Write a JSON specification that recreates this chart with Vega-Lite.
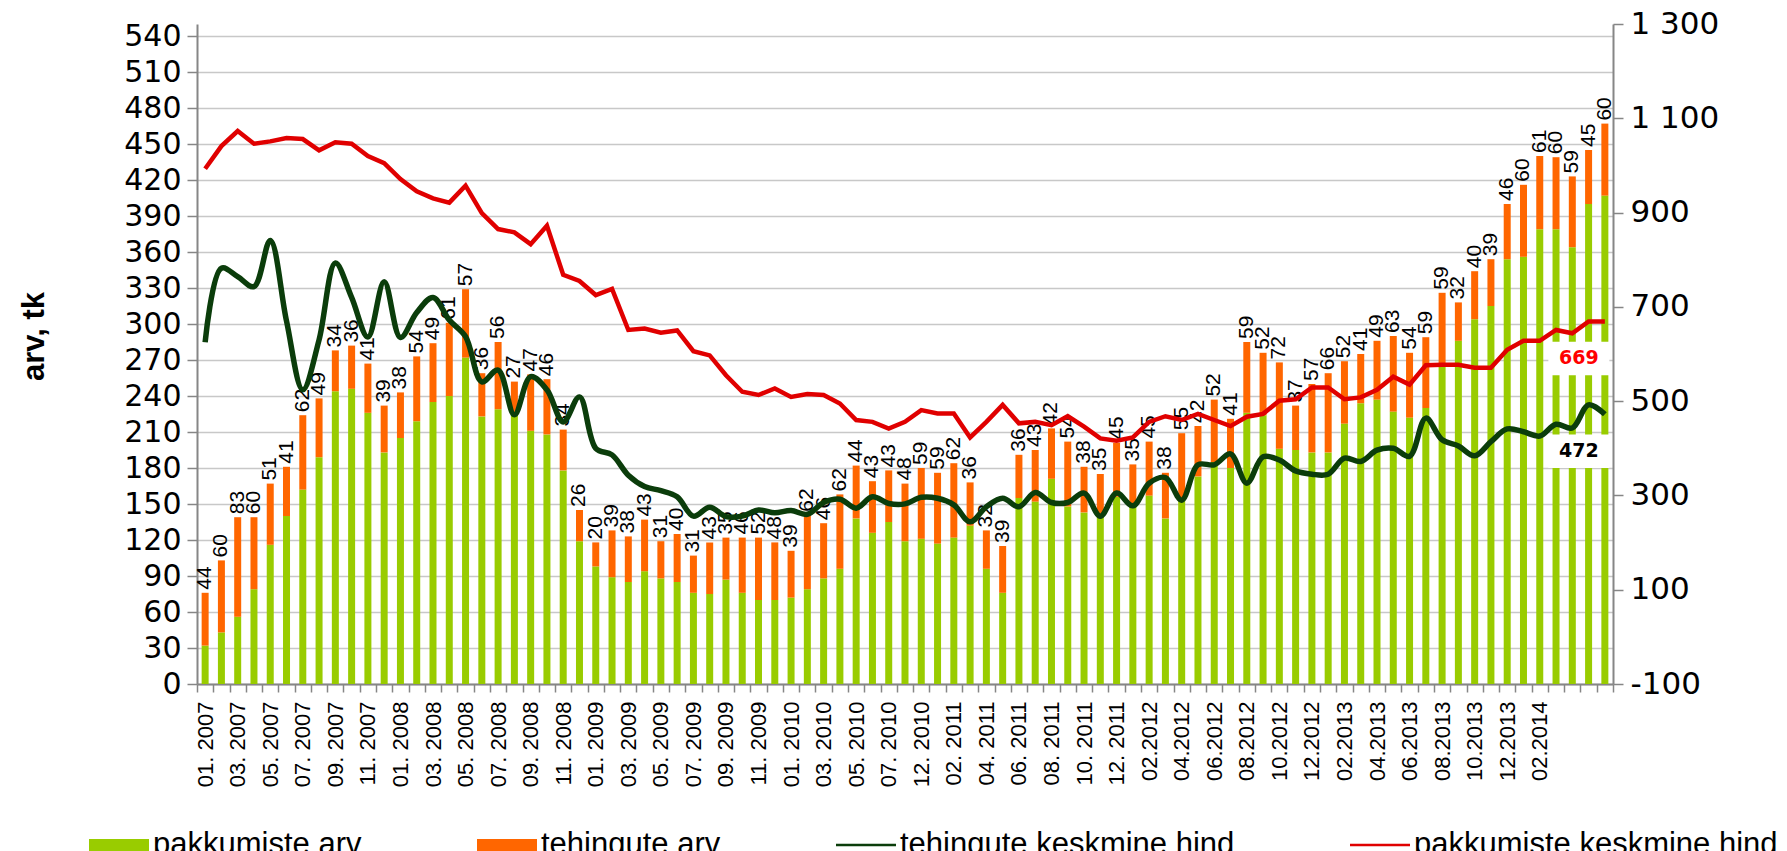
{
  "$schema": "https://vega.github.io/schema/vega-lite/v6.json",
  "width": 1416,
  "height": 660,
  "autosize": {"type": "none"},
  "padding": {"left": 197, "top": 24, "right": 174, "bottom": 167},
  "background": "white",
  "config": {"view": {"stroke": null}, "axisY": {"labelOverlap": false}},
  "data": {"values": [
    {"kuu": "01. 2007", "pakkumiste arv": 32, "tehingute arv": 44, "tehingute keskmine hind": 625, "pakkumiste keskmine hind": 993},
    {"kuu": "02. 2007", "pakkumiste arv": 43, "tehingute arv": 60, "tehingute keskmine hind": 782, "pakkumiste keskmine hind": 1041},
    {"kuu": "03. 2007", "pakkumiste arv": 56, "tehingute arv": 83, "tehingute keskmine hind": 764, "pakkumiste keskmine hind": 1073},
    {"kuu": "04. 2007", "pakkumiste arv": 79, "tehingute arv": 60, "tehingute keskmine hind": 743, "pakkumiste keskmine hind": 1046},
    {"kuu": "05. 2007", "pakkumiste arv": 116, "tehingute arv": 51, "tehingute keskmine hind": 841, "pakkumiste keskmine hind": 1051},
    {"kuu": "06. 2007", "pakkumiste arv": 140, "tehingute arv": 41, "tehingute keskmine hind": 670, "pakkumiste keskmine hind": 1058},
    {"kuu": "07. 2007", "pakkumiste arv": 162, "tehingute arv": 62, "tehingute keskmine hind": 524, "pakkumiste keskmine hind": 1056},
    {"kuu": "08. 2007", "pakkumiste arv": 189, "tehingute arv": 49, "tehingute keskmine hind": 630, "pakkumiste keskmine hind": 1032},
    {"kuu": "09. 2007", "pakkumiste arv": 244, "tehingute arv": 34, "tehingute keskmine hind": 793, "pakkumiste keskmine hind": 1049},
    {"kuu": "10. 2007", "pakkumiste arv": 246, "tehingute arv": 36, "tehingute keskmine hind": 720, "pakkumiste keskmine hind": 1046},
    {"kuu": "11. 2007", "pakkumiste arv": 226, "tehingute arv": 41, "tehingute keskmine hind": 636, "pakkumiste keskmine hind": 1020},
    {"kuu": "12. 2007", "pakkumiste arv": 193, "tehingute arv": 39, "tehingute keskmine hind": 753, "pakkumiste keskmine hind": 1005},
    {"kuu": "01. 2008", "pakkumiste arv": 205, "tehingute arv": 38, "tehingute keskmine hind": 635, "pakkumiste keskmine hind": 971},
    {"kuu": "02. 2008", "pakkumiste arv": 219, "tehingute arv": 54, "tehingute keskmine hind": 688, "pakkumiste keskmine hind": 945},
    {"kuu": "03. 2008", "pakkumiste arv": 235, "tehingute arv": 49, "tehingute keskmine hind": 720, "pakkumiste keskmine hind": 930},
    {"kuu": "04. 2008", "pakkumiste arv": 240, "tehingute arv": 61, "tehingute keskmine hind": 672, "pakkumiste keskmine hind": 921},
    {"kuu": "05. 2008", "pakkumiste arv": 272, "tehingute arv": 57, "tehingute keskmine hind": 637, "pakkumiste keskmine hind": 957},
    {"kuu": "06. 2008", "pakkumiste arv": 223, "tehingute arv": 36, "tehingute keskmine hind": 541, "pakkumiste keskmine hind": 899},
    {"kuu": "07. 2008", "pakkumiste arv": 229, "tehingute arv": 56, "tehingute keskmine hind": 566, "pakkumiste keskmine hind": 865},
    {"kuu": "08. 2008", "pakkumiste arv": 225, "tehingute arv": 27, "tehingute keskmine hind": 471, "pakkumiste keskmine hind": 858},
    {"kuu": "09. 2008", "pakkumiste arv": 211, "tehingute arv": 47, "tehingute keskmine hind": 552, "pakkumiste keskmine hind": 833},
    {"kuu": "10. 2008", "pakkumiste arv": 208, "tehingute arv": 46, "tehingute keskmine hind": 524, "pakkumiste keskmine hind": 872},
    {"kuu": "11. 2008", "pakkumiste arv": 178, "tehingute arv": 34, "tehingute keskmine hind": 456, "pakkumiste keskmine hind": 768},
    {"kuu": "12. 2008", "pakkumiste arv": 119, "tehingute arv": 26, "tehingute keskmine hind": 509, "pakkumiste keskmine hind": 755},
    {"kuu": "01. 2009", "pakkumiste arv": 98, "tehingute arv": 20, "tehingute keskmine hind": 400, "pakkumiste keskmine hind": 725},
    {"kuu": "02. 2009", "pakkumiste arv": 89, "tehingute arv": 39, "tehingute keskmine hind": 386, "pakkumiste keskmine hind": 738},
    {"kuu": "03. 2009", "pakkumiste arv": 85, "tehingute arv": 38, "tehingute keskmine hind": 343, "pakkumiste keskmine hind": 651},
    {"kuu": "04. 2009", "pakkumiste arv": 94, "tehingute arv": 43, "tehingute keskmine hind": 319, "pakkumiste keskmine hind": 654},
    {"kuu": "05. 2009", "pakkumiste arv": 88, "tehingute arv": 31, "tehingute keskmine hind": 310, "pakkumiste keskmine hind": 645},
    {"kuu": "06. 2009", "pakkumiste arv": 85, "tehingute arv": 40, "tehingute keskmine hind": 297, "pakkumiste keskmine hind": 650},
    {"kuu": "07. 2009", "pakkumiste arv": 76, "tehingute arv": 31, "tehingute keskmine hind": 256, "pakkumiste keskmine hind": 606},
    {"kuu": "08. 2009", "pakkumiste arv": 75, "tehingute arv": 43, "tehingute keskmine hind": 275, "pakkumiste keskmine hind": 597},
    {"kuu": "09. 2009", "pakkumiste arv": 87, "tehingute arv": 35, "tehingute keskmine hind": 255, "pakkumiste keskmine hind": 555},
    {"kuu": "10. 2009", "pakkumiste arv": 76, "tehingute arv": 46, "tehingute keskmine hind": 256, "pakkumiste keskmine hind": 520},
    {"kuu": "11. 2009", "pakkumiste arv": 70, "tehingute arv": 52, "tehingute keskmine hind": 269, "pakkumiste keskmine hind": 513},
    {"kuu": "12. 2009", "pakkumiste arv": 70, "tehingute arv": 48, "tehingute keskmine hind": 263, "pakkumiste keskmine hind": 527},
    {"kuu": "01. 2010", "pakkumiste arv": 72, "tehingute arv": 39, "tehingute keskmine hind": 268, "pakkumiste keskmine hind": 509},
    {"kuu": "02. 2010", "pakkumiste arv": 79, "tehingute arv": 62, "tehingute keskmine hind": 260, "pakkumiste keskmine hind": 515},
    {"kuu": "03. 2010", "pakkumiste arv": 88, "tehingute arv": 46, "tehingute keskmine hind": 285, "pakkumiste keskmine hind": 513},
    {"kuu": "04. 2010", "pakkumiste arv": 96, "tehingute arv": 62, "tehingute keskmine hind": 292, "pakkumiste keskmine hind": 495},
    {"kuu": "05. 2010", "pakkumiste arv": 138, "tehingute arv": 44, "tehingute keskmine hind": 273, "pakkumiste keskmine hind": 460},
    {"kuu": "06. 2010", "pakkumiste arv": 126, "tehingute arv": 43, "tehingute keskmine hind": 297, "pakkumiste keskmine hind": 456},
    {"kuu": "07. 2010", "pakkumiste arv": 135, "tehingute arv": 43, "tehingute keskmine hind": 283, "pakkumiste keskmine hind": 442},
    {"kuu": "08. 2010", "pakkumiste arv": 119, "tehingute arv": 48, "tehingute keskmine hind": 282, "pakkumiste keskmine hind": 456},
    {"kuu": "12. 2010", "pakkumiste arv": 121, "tehingute arv": 59, "tehingute keskmine hind": 296, "pakkumiste keskmine hind": 481},
    {"kuu": "01. 2011", "pakkumiste arv": 117, "tehingute arv": 59, "tehingute keskmine hind": 294, "pakkumiste keskmine hind": 474},
    {"kuu": "02. 2011", "pakkumiste arv": 122, "tehingute arv": 62, "tehingute keskmine hind": 280, "pakkumiste keskmine hind": 474},
    {"kuu": "03. 2011", "pakkumiste arv": 132, "tehingute arv": 36, "tehingute keskmine hind": 244, "pakkumiste keskmine hind": 423},
    {"kuu": "04. 2011", "pakkumiste arv": 96, "tehingute arv": 32, "tehingute keskmine hind": 276, "pakkumiste keskmine hind": 456},
    {"kuu": "05. 2011", "pakkumiste arv": 76, "tehingute arv": 39, "tehingute keskmine hind": 294, "pakkumiste keskmine hind": 492},
    {"kuu": "06. 2011", "pakkumiste arv": 155, "tehingute arv": 36, "tehingute keskmine hind": 276, "pakkumiste keskmine hind": 453},
    {"kuu": "07. 2011", "pakkumiste arv": 152, "tehingute arv": 43, "tehingute keskmine hind": 306, "pakkumiste keskmine hind": 456},
    {"kuu": "08. 2011", "pakkumiste arv": 171, "tehingute arv": 42, "tehingute keskmine hind": 285, "pakkumiste keskmine hind": 449},
    {"kuu": "09. 2011", "pakkumiste arv": 148, "tehingute arv": 54, "tehingute keskmine hind": 285, "pakkumiste keskmine hind": 468},
    {"kuu": "10. 2011", "pakkumiste arv": 143, "tehingute arv": 38, "tehingute keskmine hind": 305, "pakkumiste keskmine hind": 446},
    {"kuu": "11. 2011", "pakkumiste arv": 140, "tehingute arv": 35, "tehingute keskmine hind": 256, "pakkumiste keskmine hind": 421},
    {"kuu": "12. 2011", "pakkumiste arv": 156, "tehingute arv": 45, "tehingute keskmine hind": 305, "pakkumiste keskmine hind": 416},
    {"kuu": "01.2012", "pakkumiste arv": 148, "tehingute arv": 35, "tehingute keskmine hind": 278, "pakkumiste keskmine hind": 423},
    {"kuu": "02.2012", "pakkumiste arv": 157, "tehingute arv": 45, "tehingute keskmine hind": 326, "pakkumiste keskmine hind": 456},
    {"kuu": "03.2012", "pakkumiste arv": 138, "tehingute arv": 38, "tehingute keskmine hind": 338, "pakkumiste keskmine hind": 468},
    {"kuu": "04.2012", "pakkumiste arv": 154, "tehingute arv": 55, "tehingute keskmine hind": 290, "pakkumiste keskmine hind": 460},
    {"kuu": "05.2012", "pakkumiste arv": 173, "tehingute arv": 42, "tehingute keskmine hind": 365, "pakkumiste keskmine hind": 473},
    {"kuu": "06.2012", "pakkumiste arv": 185, "tehingute arv": 52, "tehingute keskmine hind": 365, "pakkumiste keskmine hind": 460},
    {"kuu": "07.2012", "pakkumiste arv": 180, "tehingute arv": 41, "tehingute keskmine hind": 388, "pakkumiste keskmine hind": 447},
    {"kuu": "08.2012", "pakkumiste arv": 226, "tehingute arv": 59, "tehingute keskmine hind": 326, "pakkumiste keskmine hind": 467},
    {"kuu": "09.2012", "pakkumiste arv": 224, "tehingute arv": 52, "tehingute keskmine hind": 382, "pakkumiste keskmine hind": 473},
    {"kuu": "10.2012", "pakkumiste arv": 196, "tehingute arv": 72, "tehingute keskmine hind": 375, "pakkumiste keskmine hind": 501},
    {"kuu": "11.2012", "pakkumiste arv": 195, "tehingute arv": 37, "tehingute keskmine hind": 352, "pakkumiste keskmine hind": 504},
    {"kuu": "12.2012", "pakkumiste arv": 193, "tehingute arv": 57, "tehingute keskmine hind": 345, "pakkumiste keskmine hind": 529},
    {"kuu": "01.2013", "pakkumiste arv": 193, "tehingute arv": 66, "tehingute keskmine hind": 345, "pakkumiste keskmine hind": 529},
    {"kuu": "02.2013", "pakkumiste arv": 217, "tehingute arv": 52, "tehingute keskmine hind": 379, "pakkumiste keskmine hind": 504},
    {"kuu": "03.2013", "pakkumiste arv": 234, "tehingute arv": 41, "tehingute keskmine hind": 372, "pakkumiste keskmine hind": 508},
    {"kuu": "04.2013", "pakkumiste arv": 237, "tehingute arv": 49, "tehingute keskmine hind": 396, "pakkumiste keskmine hind": 524},
    {"kuu": "05.2013", "pakkumiste arv": 227, "tehingute arv": 63, "tehingute keskmine hind": 400, "pakkumiste keskmine hind": 552},
    {"kuu": "06.2013", "pakkumiste arv": 222, "tehingute arv": 54, "tehingute keskmine hind": 383, "pakkumiste keskmine hind": 535},
    {"kuu": "07.2013", "pakkumiste arv": 230, "tehingute arv": 59, "tehingute keskmine hind": 464, "pakkumiste keskmine hind": 576},
    {"kuu": "08.2013", "pakkumiste arv": 267, "tehingute arv": 59, "tehingute keskmine hind": 418, "pakkumiste keskmine hind": 577},
    {"kuu": "09.2013", "pakkumiste arv": 286, "tehingute arv": 32, "tehingute keskmine hind": 405, "pakkumiste keskmine hind": 577},
    {"kuu": "10.2013", "pakkumiste arv": 304, "tehingute arv": 40, "tehingute keskmine hind": 384, "pakkumiste keskmine hind": 571},
    {"kuu": "11.2013", "pakkumiste arv": 315, "tehingute arv": 39, "tehingute keskmine hind": 414, "pakkumiste keskmine hind": 571},
    {"kuu": "12.2013", "pakkumiste arv": 354, "tehingute arv": 46, "tehingute keskmine hind": 441, "pakkumiste keskmine hind": 609},
    {"kuu": "01.2014", "pakkumiste arv": 356, "tehingute arv": 60, "tehingute keskmine hind": 435, "pakkumiste keskmine hind": 628},
    {"kuu": "02.2014", "pakkumiste arv": 379, "tehingute arv": 61, "tehingute keskmine hind": 426, "pakkumiste keskmine hind": 628},
    {"kuu": "03.2014", "pakkumiste arv": 379, "tehingute arv": 60, "tehingute keskmine hind": 451, "pakkumiste keskmine hind": 651},
    {"kuu": "04.2014", "pakkumiste arv": 364, "tehingute arv": 59, "tehingute keskmine hind": 443, "pakkumiste keskmine hind": 644},
    {"kuu": "05.2014", "pakkumiste arv": 400, "tehingute arv": 45, "tehingute keskmine hind": 492, "pakkumiste keskmine hind": 669},
    {"kuu": "06.2014", "pakkumiste arv": 407, "tehingute arv": 60, "tehingute keskmine hind": 472, "pakkumiste keskmine hind": 669}
  ]},
  "encoding": {
    "x": {
      "field": "kuu", "type": "ordinal", "sort": null,
      "scale": {"paddingInner": 0, "paddingOuter": 0},
      "axis": {
        "title": null,
        "domainColor": "#868686", "domainWidth": 2,
        "tickColor": "#868686", "tickWidth": 1.5, "tickSize": 8, "tickBand": "extent",
        "labelAngle": 270, "labelAlign": "right", "labelBaseline": "middle",
        "labelFont": "Liberation Sans", "labelFontSize": 22, "labelColor": "black",
        "labelPadding": 9, "labelOverlap": false, "labelLimit": 200,
        "labelExpr": "indexof(['01. 2007','03. 2007','05. 2007','07. 2007','09. 2007','11. 2007','01. 2008','03. 2008','05. 2008','07. 2008','09. 2008','11. 2008','01. 2009','03. 2009','05. 2009','07. 2009','09. 2009','11. 2009','01. 2010','03. 2010','05. 2010','07. 2010','12. 2010','02. 2011','04. 2011','06. 2011','08. 2011','10. 2011','12. 2011','02.2012','04.2012','06.2012','08.2012','10.2012','12.2012','02.2013','04.2013','06.2013','08.2013','10.2013','12.2013','02.2014'], datum.value) >= 0 ? datum.value : ''"
      }
    }
  },
  "layer": [
    {
      "transform": [
        {"fold": ["pakkumiste arv", "tehingute arv"], "as": ["seeria", "arv"]},
        {"stack": "arv", "groupby": ["kuu"], "sort": [{"field": "seeria", "order": "ascending"}], "as": ["arv0", "arv1"]}
      ],
      "encoding": {
        "y": {
          "field": "arv1", "type": "quantitative",
          "scale": {"domain": [0, 550], "nice": false, "zero": true},
          "axis": {
            "values": [0, 30, 60, 90, 120, 150, 180, 210, 240, 270, 300, 330, 360, 390, 420, 450, 480, 510, 540],
            "grid": true, "gridColor": "#C8C8C8", "gridWidth": 1.5,
            "domainColor": "#868686", "domainWidth": 2,
            "tickColor": "#868686", "tickWidth": 1.5, "tickSize": 10,
            "labelFont": "DejaVu Sans", "labelFontSize": 30, "labelColor": "black", "labelPadding": 6,
            "labelOverlap": false, "labelBound": false, "labelSeparation": 0,
            "title": "arv, tk", "titleFont": "Liberation Sans", "titleFontWeight": "bold", "titleFontSize": 31,
            "titleColor": "black", "titleX": -163, "titleY": 312, "titleAngle": 270, "titleAlign": "center", "titleBaseline": "middle"
          }
        }
      },
      "layer": [
        {
          "mark": {"type": "bar", "size": 7},
          "encoding": {
            "y2": {"field": "arv0"},
            "color": {
              "field": "seeria", "type": "nominal",
              "scale": {
                "domain": ["pakkumiste arv", "tehingute arv", "tehingute keskmine hind", "pakkumiste keskmine hind"],
                "range": ["#99CC00", "#FF6600", "#0B3D0B", "#E00000"]
              },
              "legend": {
                "orient": "none", "legendX": -108, "legendY": 791, "direction": "horizontal",
                "title": null, "padding": 0,
                "labelFont": "Liberation Sans", "labelFontSize": 31, "labelColor": "black", "labelLimit": 600,
                "labelOffset": 4, "columnPadding": 115, "symbolSize": 3600,
                "encode": {
                  "symbols": {
                    "update": {
                      "shape": {"signal": "indexof(datum.value, 'hind') > 0 ? 'M-1,-0.045H1V0.045H-1Z' : 'M-1,-0.2H1V0.2H-1Z'"},
                      "fill": {"scale": "color", "field": "value"},
                      "stroke": {"value": "transparent"},
                      "strokeWidth": {"value": 0},
                      "opacity": {"value": 1}
                    }
                  }
                }
              }
            }
          }
        },
        {
          "transform": [{"filter": "datum.seeria == 'tehingute arv'"}],
          "mark": {"type": "text", "angle": 270, "align": "left", "baseline": "middle", "dx": 3, "font": "Liberation Sans", "fontSize": 21, "color": "black"},
          "encoding": {
            "text": {"field": "arv", "type": "quantitative"}
          }
        }
      ]
    },
    {
      "transform": [
        {"fold": ["tehingute keskmine hind", "pakkumiste keskmine hind"], "as": ["seeria", "hind"]}
      ],
      "encoding": {
        "y": {
          "field": "hind", "type": "quantitative",
          "scale": {"domain": [-100, 1300], "nice": false, "zero": false},
          "axis": {
            "orient": "right", "title": null, "grid": false,
            "values": [-100, 100, 300, 500, 700, 900, 1100, 1300],
            "domainColor": "#868686", "domainWidth": 2,
            "tickColor": "#868686", "tickWidth": 1.5, "tickSize": 10,
            "labelFont": "DejaVu Sans", "labelFontSize": 31, "labelColor": "black", "labelPadding": 7,
            "labelOverlap": false, "labelBound": false,
            "labelExpr": "datum.value >= 1000 ? '1 ' + substring('' + datum.value, 1) : '' + datum.value"
          }
        }
      },
      "layer": [
        {
          "transform": [{"filter": "datum.seeria == 'tehingute keskmine hind'"}],
          "mark": {"type": "line", "interpolate": "catmull-rom", "strokeWidth": 5.5},
          "encoding": {"color": {"field": "seeria", "type": "nominal"}}
        },
        {
          "transform": [{"filter": "datum.seeria == 'pakkumiste keskmine hind'"}],
          "mark": {"type": "line", "strokeWidth": 4.5},
          "encoding": {"color": {"field": "seeria", "type": "nominal"}}
        },
        {
          "transform": [{"filter": "datum.kuu == '06.2014'"}],
          "mark": {"type": "point", "shape": "M-1,-0.55H1V0.55H-1Z", "filled": true, "fill": "white", "opacity": 1, "strokeWidth": 0, "size": 3721, "xOffset": -26, "yOffset": 37},
          "encoding": {}
        },
        {
          "transform": [{"filter": "datum.kuu == '06.2014'"}],
          "mark": {"type": "text", "font": "DejaVu Sans", "fontWeight": "bold", "fontSize": 19, "xOffset": -26, "yOffset": 37, "baseline": "middle", "align": "center"},
          "encoding": {
            "text": {"field": "hind", "type": "quantitative"},
            "color": {"condition": {"test": "datum.seeria == 'pakkumiste keskmine hind'", "value": "#FF0000"}, "value": "black"}
          }
        }
      ]
    }
  ],
  "resolve": {"scale": {"y": "independent"}}
}
